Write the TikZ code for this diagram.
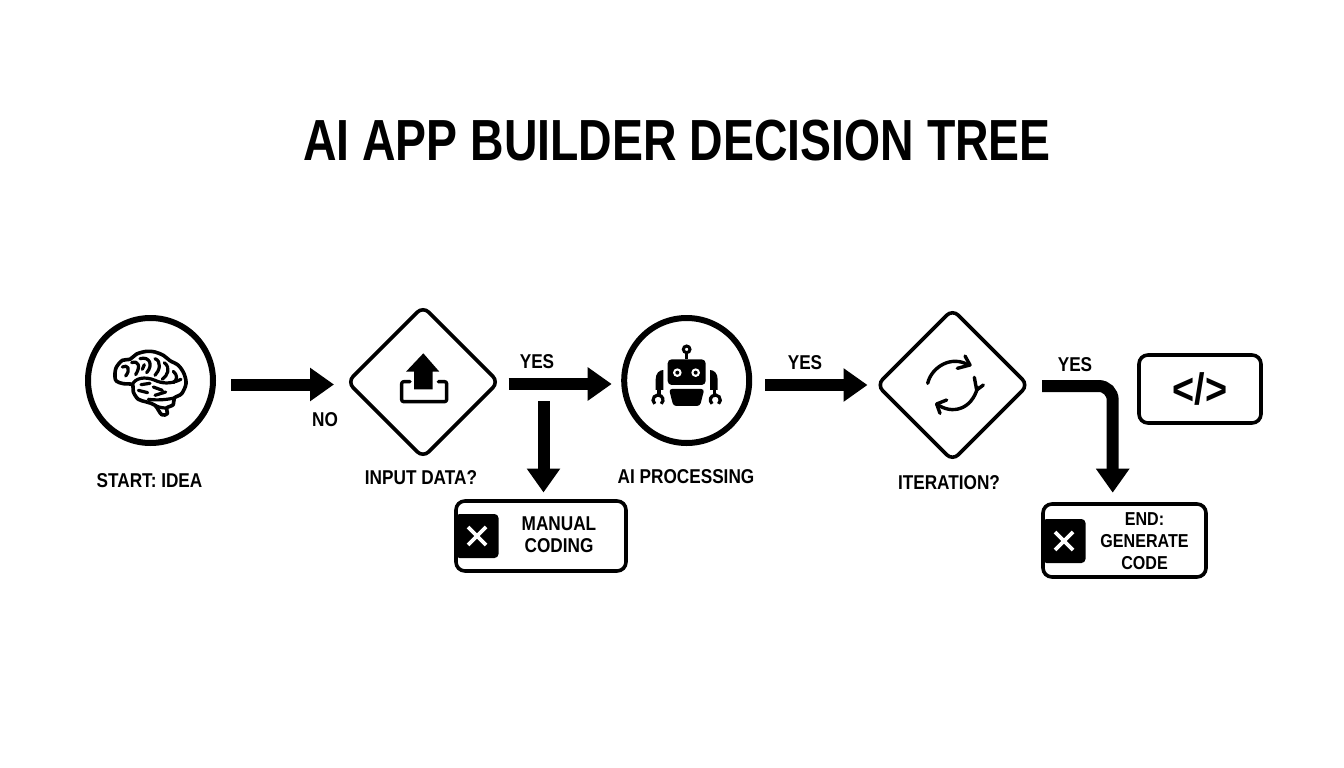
\documentclass[tikz,border=0pt]{standalone}
\usepackage{fontspec}
\setmainfont[FakeStretch=0.86]{Liberation Sans}
\newfontfamily\titlefont[FakeStretch=0.80]{Liberation Sans}
\usetikzlibrary{arrows.meta,shapes.geometric}

\tikzset{
  every node/.style={font=\bfseries\fontsize{20}{22}\selectfont,inner sep=0pt,outer sep=0pt},
  stepcircle/.style={draw,circle,line width=6pt,minimum size=125pt},
  stepdiamond/.style={draw,diamond,aspect=1,line width=3.6pt,rounded corners=8pt,minimum width=151pt,minimum height=151pt},
  stepbox/.style={draw,rectangle,line width=3.6pt,rounded corners=9pt},
  xblock/.style={fill=black,rectangle,rounded corners=4pt,minimum width=43pt,minimum height=44pt},
  flowarrow/.style={draw,line width=12pt,-{Triangle[length=24pt,width=32pt]}},
  icon/.style={line width=3.4pt,line cap=round,line join=round}
}

\begin{document}
\begin{tikzpicture}[x=1pt,y=-1pt]
   \useasboundingbox (0,0) rectangle (1344,768);

   % Title
   \node[font=\titlefont\bfseries\fontsize{58}{58}\selectfont] (title) at (677,141) {AI APP BUILDER DECISION TREE};

   % Steps
   \node[stepcircle] (start) at (150.5,380.5) {};
   \node[stepdiamond] (input) at (423,382) {};
   \node[stepcircle] (processing) at (686.7,380.5) {};
   \node[stepdiamond] (iteration) at (952.5,385) {};
   \node[stepbox,minimum width=122pt,minimum height=68pt] (code) at (1200,389)
        {\fontsize{44}{44}\selectfont </>};
   \node[stepbox,minimum width=170pt,minimum height=70pt] (manual) at (541,536) {};
   \node[stepbox,minimum width=163pt,minimum height=73pt] (finish) at (1124.5,540.5) {};

   % Labels
   \node (startlabel) at (149.5,481) {START: IDEA};
   \node (inputlabel) at (421,478) {INPUT DATA?};
   \node (processinglabel) at (686,477) {AI PROCESSING};
   \node (iterationlabel) at (949,483) {ITERATION?};
   \node (nolabel) at (325,420) {NO};
   \node (yesa) at (537,362) {YES};
   \node (yesb) at (805,363) {YES};
   \node (yesc) at (1075,365) {YES};
   \node[align=center] (manuallabel) at (559,535) {MANUAL\\CODING};
   \node[align=center,font=\bfseries\fontsize{18.7}{22}\selectfont] (finishlabel) at (1144.5,541) {END:\\GENERATE\\CODE};

   % Cross blocks
   \foreach \name/\x/\y in {manualx/477/536,finishx/1064/541} {
       \node[xblock] (\name) at (\x,\y) {};
       \draw[white,line width=3.6pt] (\x-9,\y-9) -- (\x+9,\y+9);
       \draw[white,line width=3.6pt] (\x-9,\y+9) -- (\x+9,\y-9);
   }

   % Arrows
   \coordinate (branch) at (543.5,401);
   \coordinate (turn) at (1112.7,386);

   \draw[flowarrow,shorten <=18pt,shorten >=13.5pt]
        ([shift={(0,4)}]start.east) -- ([shift={(0,2.5)}]input.west);
   \draw[flowarrow,shorten <=10pt,shorten >=12.5pt]
        ([shift={(0,2)}]input.east) -- ([shift={(0,3.5)}]processing.west);
   \draw[flowarrow,shorten >=8.5pt] (branch) -- (branch |- manual.north);
   \draw[flowarrow,shorten <=16pt,shorten >=9.5pt]
        ([shift={(0,4.5)}]processing.east) -- (iteration.west);
   \draw[flowarrow,rounded corners=14pt,shorten <=14pt,shorten >=11.3pt]
        ([shift={(0,1)}]iteration.east) -- (turn) -- (turn |- finish.north);

   % Brain
   \begin{scope}[shift={(105,342)},scale=0.3333,line width=3.2pt,line cap=round,line join=round]
       \draw[line width=3.6pt] plot[smooth cycle,tension=0.55] coordinates{
           (30,105) (33,78) (52,55) (75,52) (95,36) (125,28) (150,30) (175,40) (195,56)
           (220,70) (237,95) (243,125) (230,155) (208,168) (205,188) (185,198)
           (187,215) (170,218) (150,190) (125,180) (100,172) (85,150) (82,128) (55,125) (35,118)};
       \draw (52,75) .. controls (68,66) and (78,82) .. (62,102);
       \draw (80,62) .. controls (100,55) and (108,72) .. (92,98);
       \draw (105,50) .. controls (135,42) and (145,70) .. (125,92);
       \draw (118,68) -- (112,82);
       \draw (150,50) .. controls (170,58) and (165,85) .. (150,100);
       \draw (178,62) .. controls (198,78) and (188,100) .. (172,112);
       \draw (205,88) .. controls (218,100) and (218,112) .. (205,122);
       \draw (82,128) .. controls (90,108) and (120,102) .. (150,115)
             .. controls (170,124) and (195,128) .. (228,112);
       \draw (108,128) -- (135,124);
       \draw (100,145) -- (128,152);
       \draw (145,135) -- (172,145);
       \draw (150,160) -- (182,150);
       \draw (130,172) .. controls (160,176) and (190,172) .. (208,168);
       \draw (150,190) .. controls (165,198) and (178,198) .. (185,198);
   \end{scope}

   % Upload
   \begin{scope}[shift={(390,345)},scale=0.3333]
       \fill (100,25) -- (148,80) -- (128,80) -- (128,133) -- (72,133) -- (72,80) -- (48,80) -- cycle;
       \draw[icon,rounded corners=2pt] (60,110) -- (35,110) -- (35,170) -- (170,170) -- (170,110) -- (145,110);
   \end{scope}

   % Robot
   \begin{scope}[shift={(645,340)},scale=0.3333]
       \draw[line width=3pt] (125,28) circle (10);
       \draw[line width=3pt] (125,38) -- (125,58);
       \fill[rounded corners=4pt] (68,58) rectangle (182,135);
       \foreach \x in {97,152} {
           \fill[white] (\x,98) circle (13);
           \fill (\x,98) circle (6);
       }
       \fill[rounded corners=3pt] (72,147) -- (178,147) -- (165,198) -- (85,198) -- cycle;
       \foreach \s in {1,-1} {
           \begin{scope}[shift={(125,0)},xscale=\s]
               \fill (-70,150) -- (-93,150) -- (-93,118) .. controls (-93,100) and (-82,90) .. (-70,90) -- cycle;
               \draw[line width=3.2pt] (-83,150) -- (-83,166);
               \draw[line width=3.2pt] (-95.6,191.5) arc[start angle=130,end angle=410,radius=15];
           \end{scope}
       }
   \end{scope}

   % Cycle
   \begin{scope}[shift={(915,350)},scale=0.3333]
       \draw[icon] (38,100) .. controls (50,50) and (110,15) .. (160,45);
       \draw[icon] (150,18) -- (165,45) -- (127,55);
       \draw[icon] (188,112) .. controls (170,180) and (110,195) .. (65,162);
       \draw[icon] (95,150) -- (65,162) -- (75,190);
       \draw[icon] (178,82) -- (185,120) -- (205,105);
   \end{scope}
\end{tikzpicture}
\end{document}
